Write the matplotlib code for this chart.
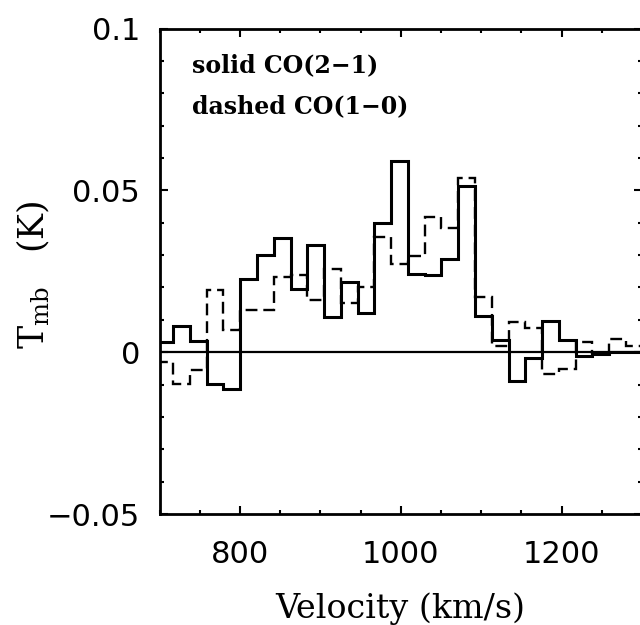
import numpy as np
import matplotlib
matplotlib.use("Agg")
import matplotlib.pyplot as plt
from matplotlib.ticker import FixedLocator, MultipleLocator, FixedFormatter

# ---- data ----
v_first_edge = 696.0       # km/s, left edge of first channel
channel_width = 20.86      # km/s
co21_solid = [0.0031, 0.0080, 0.0035, -0.0097, -0.0113, 0.0227, 0.0300, 0.0352,
              0.0196, 0.0330, 0.0110, 0.0216, 0.0122, 0.0400, 0.0590, 0.0242,
              0.0237, 0.0289, 0.0513, 0.0113, 0.0037, -0.0090, -0.0019, 0.0095,
              0.0039, -0.0012, -0.0007, 0.0000, 0.0000]
co10_dashed = [-0.0031, -0.0097, -0.0054, 0.0192, 0.0068, 0.0130, 0.0130, 0.0233,
               0.0237, 0.0160, 0.0258, 0.0153, 0.0201, 0.0356, 0.0271, 0.0297,
               0.0417, 0.0384, 0.0537, 0.0170, 0.0020, 0.0093, 0.0076, -0.0067,
               -0.0051, 0.0030, -0.0003, 0.0042, 0.0018]
x_major = [800, 1000, 1200]
x_major_labels = ["800", "1000", "1200"]
y_major = [-0.05, 0.0, 0.05, 0.1]
y_major_labels = ["\u22120.05", "0", "0.05", "0.1"]
legend_lines = ["solid CO(2\u22121)", "dashed CO(1\u22120)"]

edges = v_first_edge + channel_width * np.arange(len(co21_solid) + 1)

plt.rcParams['mathtext.fontset'] = 'dejavuserif'

fig = plt.figure(figsize=(6.4, 6.25), dpi=100)
ax = fig.add_axes([159.6 / 640, (625 - 514) / 625, 482.4 / 640, 485.5 / 625])

ax.stairs(co21_solid, edges, baseline=None, color='black', lw=2.2)
ax.stairs(co10_dashed, edges, baseline=None, color='black', lw=1.7,
          linestyle=(0, (5, 2.5)))
ax.axhline(0, color='black', lw=1.6)

ax.set_xlim(700, 1300)
ax.set_ylim(-0.05, 0.1)

ax.xaxis.set_major_locator(FixedLocator(x_major))
ax.xaxis.set_major_formatter(FixedFormatter(x_major_labels))
ax.xaxis.set_minor_locator(MultipleLocator(50))
ax.yaxis.set_major_locator(FixedLocator(y_major))
ax.yaxis.set_major_formatter(FixedFormatter(y_major_labels))
ax.yaxis.set_minor_locator(MultipleLocator(0.01))

ax.tick_params(which='both', direction='in', top=True, right=True, width=1.5)
ax.tick_params(which='major', length=6)
ax.tick_params(which='minor', length=3)
ax.tick_params(axis='x', which='major', pad=19, labelsize=22)
ax.tick_params(axis='y', which='major', pad=14, labelsize=22)
for lab in ax.get_xticklabels() + ax.get_yticklabels():
    lab.set_fontfamily('DejaVu Sans')

for s in ax.spines.values():
    s.set_linewidth(2.0)

ax.text(0.067, 0.925, legend_lines[0], transform=ax.transAxes, ha='left',
        va='center', fontsize=17, family='DejaVu Serif', fontweight='bold')
ax.text(0.067, 0.839, legend_lines[1], transform=ax.transAxes, ha='left',
        va='center', fontsize=17, family='DejaVu Serif', fontweight='bold')

fig.text(400 / 640, 1 - 609 / 625, "Velocity (km/s)", ha='center', va='center',
         fontsize=24, family='DejaVu Serif')
fig.text(33 / 640, 1 - 275 / 625, r"$\mathrm{T_{mb}}$   (K)", ha='center',
         va='center', rotation=90, fontsize=25, family='DejaVu Serif')

fig.savefig("out.png", dpi=100)
